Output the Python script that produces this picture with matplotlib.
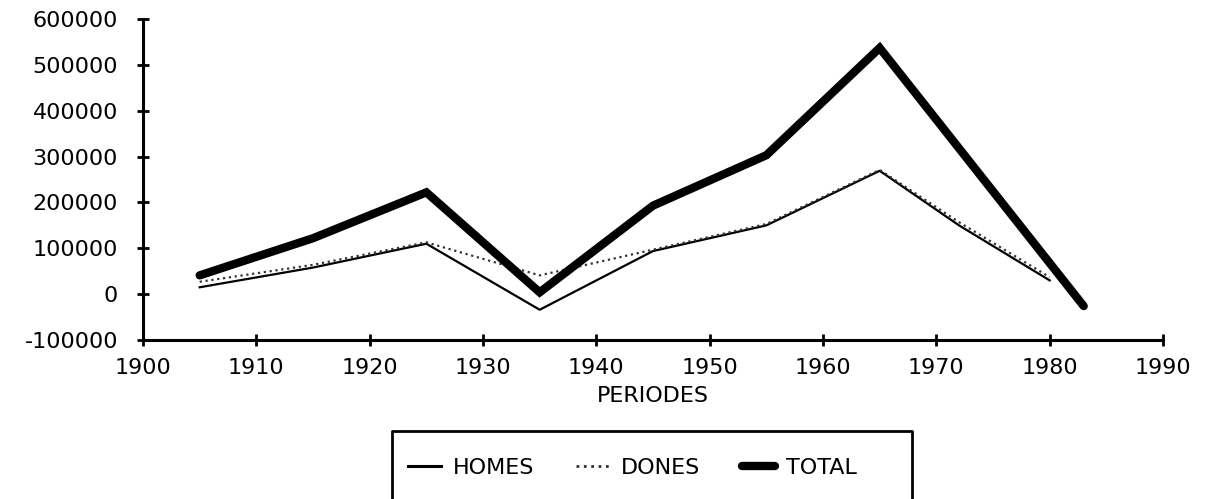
import numpy as np
import matplotlib
matplotlib.use('Agg')
import matplotlib.pyplot as plt
from matplotlib.lines import Line2D

# Period midpoints and values
years_total = [1905, 1915, 1925, 1935, 1945, 1955, 1965, 1983]
total = [41000, 122000, 222000, 4000, 193000, 303000, 537000, -26000]

years_sex = [1905, 1915, 1925, 1935, 1945, 1955, 1965, 1972, 1980]
homes = [15000, 58000, 110000, -34000, 94000, 150000, 269000, 150000, 30000]
dones = [27000, 64000, 113000, 41000, 97000, 153000, 271000, 157000, 37000]

xticks = list(range(1900, 1991, 10))
yticks = list(range(-100000, 600001, 100000))

def plotGraph():
  plt.rcParams['font.family'] = 'DejaVu Sans'
  fig = plt.figure(figsize=(12.13, 4.99), dpi=100)
  ax = fig.add_axes([0.1179, 0.3186, 0.8409, 0.6433])

  ax.plot(years_sex, homes, '-', color='black', lw=1.6, label='HOMES')
  ax.plot(years_sex, dones, ':', color='#333333', lw=1.6, label='DONES')
  ax.plot(years_total, total, '-', color='black', lw=6, label='TOTAL',
          solid_joinstyle='miter', solid_capstyle='round')

  ax.set_xlim(1900, 1990)
  ax.set_ylim(-100000, 600000)
  ax.set_xticks(xticks)
  ax.set_yticks(yticks)
  ax.set_xticklabels([str(t) for t in xticks], fontsize=16)
  ax.set_yticklabels([str(t) for t in yticks], fontsize=16)

  for s in ['top', 'right']:
    ax.spines[s].set_visible(False)
  for s in ['left', 'bottom']:
    ax.spines[s].set_linewidth(2.2)
  ax.tick_params(direction='inout', length=8, width=2)
  ax.tick_params(axis='y', pad=14)
  ax.tick_params(axis='x', pad=9)
  ax.set_xlabel('PERIODES', fontsize=16, labelpad=6)

  # legend box, open at the bottom
  x0, x1, yt = 392/1213., 912/1213., 1 - 431/499.
  fig.add_artist(Line2D([x0, x0, x1, x1], [0, yt, yt, 0],
                        transform=fig.transFigure, color='black', lw=2))
  leg = fig.legend(loc='center left', bbox_to_anchor=(408/1213., 1 - 468/499.),
                   ncol=3, frameon=False, fontsize=16, borderpad=0,
                   borderaxespad=0, handlelength=1.5, handletextpad=0.5,
                   columnspacing=1.9)
  leg.get_lines()[0].set_linewidth(2.2)
  leg.get_lines()[1].set_linewidth(2.0)

  fig.savefig('out.png', dpi=100)

if __name__ == "__main__":
  plotGraph()
